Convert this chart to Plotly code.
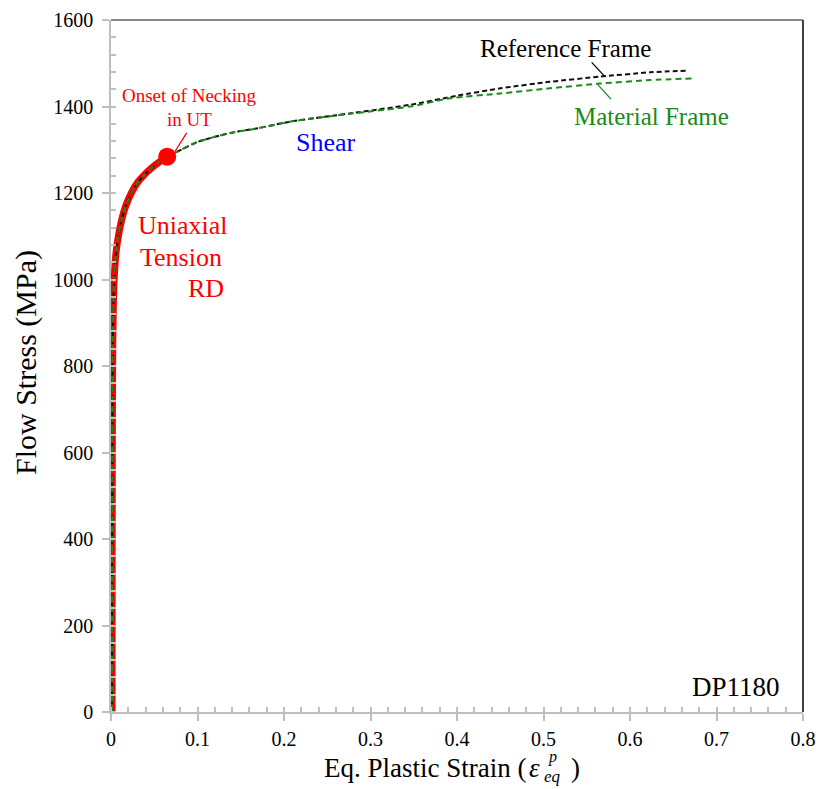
import plotly.graph_objects as go

# Uniaxial tension (RD) flow curve up to the onset of necking
ut_strain = [0.0012, 0.0013, 0.0015, 0.0020, 0.0026, 0.0033, 0.0045, 0.0060, 0.0085, 0.0120,
             0.0170, 0.0240, 0.0310, 0.0390, 0.0470, 0.0560, 0.0650]
ut_stress = [0, 300, 600, 850, 930, 985, 1030, 1065, 1100, 1135,
             1170, 1202, 1225, 1243, 1258, 1272, 1284]

# Necking onset in UT
neck_strain = [0.065]
neck_stress = [1284]

# Shear test, reference frame
shr_ref_strain = [0.0012, 0.0013, 0.0015, 0.0020, 0.0026, 0.0033, 0.0045, 0.0060, 0.0085,
                  0.0120, 0.0170, 0.0240, 0.0310, 0.0390, 0.0470, 0.0560, 0.0650,
                  0.076, 0.100, 0.138, 0.168, 0.207, 0.276, 0.346, 0.400, 0.450, 0.507,
                  0.565, 0.623, 0.667]
shr_ref_stress = [0, 300, 600, 850, 930, 985, 1030, 1065, 1100,
                  1135, 1170, 1202, 1225, 1243, 1258, 1272, 1284,
                  1295, 1318, 1339, 1349, 1365, 1384, 1404, 1425, 1442, 1457,
                  1469, 1479, 1483]

# Shear test, material frame
shr_mat_strain = [0.0012, 0.0013, 0.0015, 0.0020, 0.0026, 0.0033, 0.0045, 0.0060, 0.0085,
                  0.0120, 0.0170, 0.0240, 0.0310, 0.0390, 0.0470, 0.0560, 0.0650,
                  0.076, 0.100, 0.138, 0.168, 0.207, 0.276, 0.346, 0.392, 0.450, 0.507,
                  0.565, 0.623, 0.674]
shr_mat_stress = [0, 300, 600, 850, 930, 985, 1030, 1065, 1100,
                  1135, 1170, 1202, 1225, 1243, 1258, 1272, 1284,
                  1295, 1318, 1339, 1349, 1365, 1383, 1400, 1419, 1430, 1442,
                  1453, 1461, 1465]

x_ticks = [0, 0.1, 0.2, 0.3, 0.4, 0.5, 0.6, 0.7, 0.8]
x_tick_text = ["0", "0.1", "0.2", "0.3", "0.4", "0.5", "0.6", "0.7", "0.8"]
y_ticks = [0, 200, 400, 600, 800, 1000, 1200, 1400, 1600]

SERIF = "Liberation Serif"
RED = "#ff0000"
GREEN = "#1a8a1a"
AXIS_GRAY = "#bfbfbf"

fig = go.Figure()

fig.add_trace(go.Scatter(x=ut_strain, y=ut_stress, mode="lines",
                         line=dict(color=RED, width=7, shape="spline", smoothing=0.6),
                         cliponaxis=False, showlegend=False, hoverinfo="skip"))
fig.add_trace(go.Scatter(x=shr_ref_strain, y=shr_ref_stress, mode="lines",
                         line=dict(color="#111111", width=2, dash="5px,3px",
                                   shape="spline", smoothing=0.6),
                         showlegend=False, hoverinfo="skip"))
fig.add_trace(go.Scatter(x=shr_mat_strain, y=shr_mat_stress, mode="lines",
                         line=dict(color=GREEN, width=2, dash="6px,4px",
                                   shape="spline", smoothing=0.6),
                         showlegend=False, hoverinfo="skip"))
fig.add_trace(go.Scatter(x=neck_strain, y=neck_stress, mode="markers",
                         marker=dict(color=RED, size=18, line=dict(width=0)),
                         showlegend=False, hoverinfo="skip"))

common_axis = dict(
    showgrid=False, zeroline=False, showline=True, linecolor=AXIS_GRAY, linewidth=1.5,
    ticks="outside", ticklen=7, tickcolor=AXIS_GRAY, tickwidth=1.5, automargin=False,
    tickfont=dict(family=SERIF, size=20, color="black"),
)

fig.update_xaxes(range=[0, 0.8], tickvals=x_ticks, ticktext=x_tick_text,
                 minor=dict(dtick=0.02, ticks="inside", ticklen=5,
                            tickcolor=AXIS_GRAY, tickwidth=1.5),
                 ticklabelstandoff=1, **common_axis)
fig.update_yaxes(range=[0, 1600], tickvals=y_ticks,
                 minor=dict(dtick=40, ticks="inside", ticklen=5,
                            tickcolor=AXIS_GRAY, tickwidth=1.5),
                 ticklabelstandoff=5, **common_axis)

# Frame: top edge gray, right edge dark
fig.add_shape(type="line", xref="paper", yref="paper", x0=0, x1=1, y0=1, y1=1,
              line=dict(color="#8a8a8a", width=2))
fig.add_shape(type="line", xref="paper", yref="paper", x0=1, x1=1, y0=0, y1=1,
              line=dict(color="#404040", width=2))

# Leader lines for the labels
fig.add_shape(type="line", x0=0.0875, y0=1339, x1=0.074, y1=1296,
              line=dict(color=RED, width=1.3))
fig.add_shape(type="line", x0=0.5557, y0=1502, x1=0.571, y1=1469,
              line=dict(color="black", width=1.3))
fig.add_shape(type="line", x0=0.578, y0=1417, x1=0.563, y1=1450,
              line=dict(color=GREEN, width=1.3))


def label(text, x, y, size, color, **kw):
    fig.add_annotation(text=text, x=x, y=y, showarrow=False,
                       font=dict(family=SERIF, size=size, color=color), **kw)


label("Onset of Necking", 0.0913, 1426, 19, RED)
label("in UT", 0.0913, 1371, 19, RED)
label("Uniaxial", 0.0832, 1124, 26, RED)
label("Tension", 0.0809, 1052, 26, RED)
label("RD", 0.1098, 980, 26, RED)
label("Shear", 0.2486, 1316, 26, "#0000ff")
label("Reference Frame", 0.5255, 1535, 25, "black")
label("Material Frame", 0.6254, 1378, 25, GREEN)
label("DP1180", 0.7225, 58, 27, "black")

# Axis titles, placed in pixel terms relative to the plot area
PW = 692.0
PH = 692.0
def px_x(px):
    return (px - 111) / PW
def px_y(py):
    return (712 - py) / PH

fig.add_annotation(text="Flow Stress (MPa)", xref="paper", yref="paper",
                   x=px_x(26), y=px_y(363), xanchor="center", yanchor="middle",
                   textangle=-90, showarrow=False,
                   font=dict(family=SERIF, size=30, color="black"))
fig.add_annotation(text="Eq. Plastic Strain (", xref="paper", yref="paper",
                   x=px_x(528), y=px_y(768), xanchor="right", yanchor="middle",
                   showarrow=False, font=dict(family=SERIF, size=27, color="black"))
fig.add_annotation(text="<i>ε</i>", xref="paper", yref="paper",
                   x=px_x(534), y=px_y(768), xanchor="center", yanchor="middle",
                   showarrow=False, font=dict(family=SERIF, size=27, color="black"))
fig.add_annotation(text="<i>p</i>", xref="paper", yref="paper",
                   x=px_x(552), y=px_y(757), xanchor="center", yanchor="middle",
                   borderpad=0, showarrow=False,
                   font=dict(family=SERIF, size=16, color="black"))
fig.add_annotation(text="<i>eq</i>", xref="paper", yref="paper",
                   x=px_x(552), y=px_y(777), xanchor="center", yanchor="middle",
                   borderpad=0, showarrow=False,
                   font=dict(family=SERIF, size=17, color="black"))
fig.add_annotation(text=")", xref="paper", yref="paper",
                   x=px_x(575), y=px_y(768), xanchor="center", yanchor="middle",
                   showarrow=False, font=dict(family=SERIF, size=27, color="black"))

fig.update_layout(
    width=816, height=789,
    margin=dict(l=111, r=13, t=20, b=77, pad=0),
    paper_bgcolor="white", plot_bgcolor="white",
    showlegend=False,
)

fig.write_html("out.html")
